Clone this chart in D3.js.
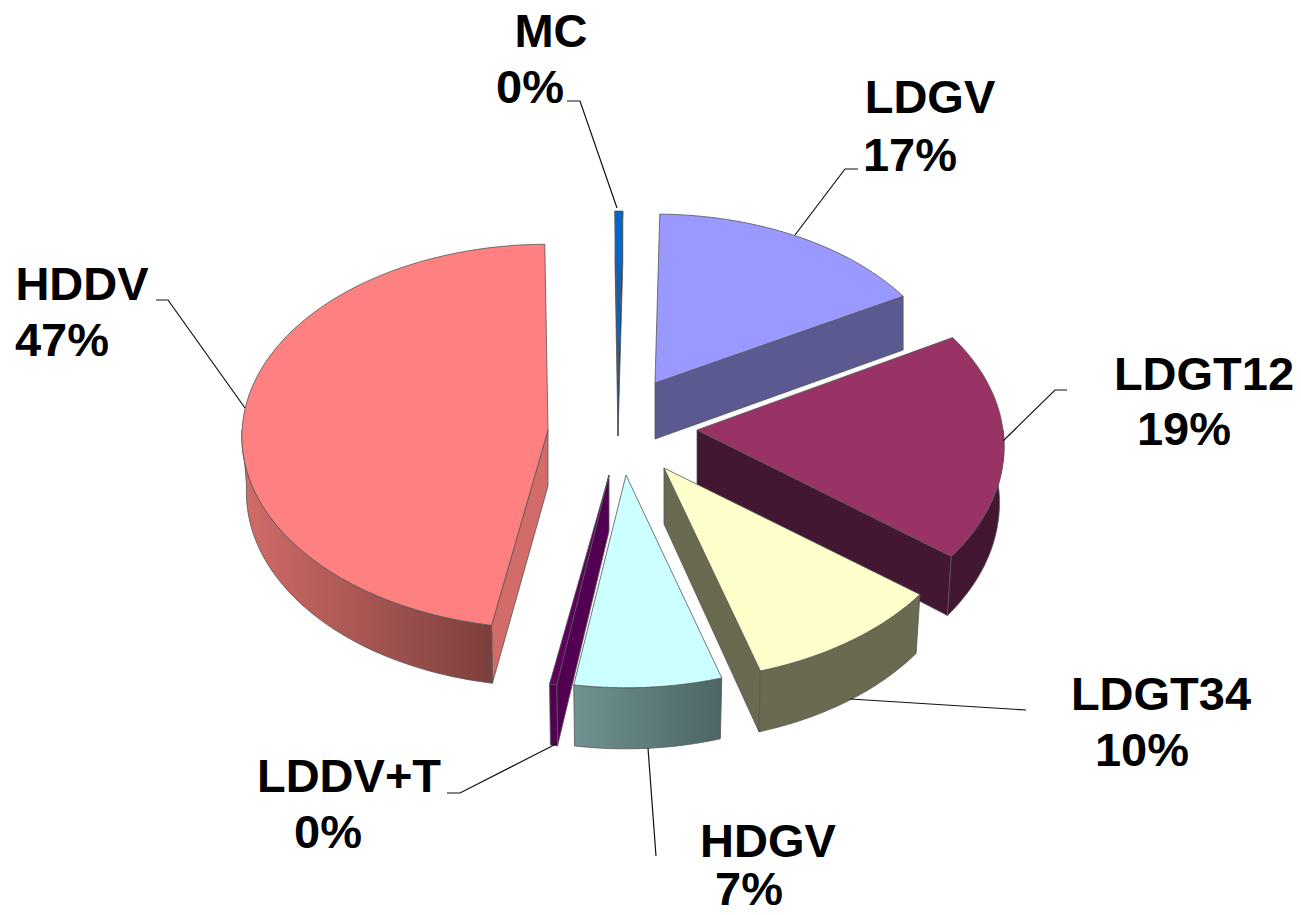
<!DOCTYPE html>
<html><head><meta charset="utf-8"><style>html,body{margin:0;padding:0;background:#fff}svg{display:block}</style>
<script src="https://cdn.jsdelivr.net/npm/d3@7"></script></head><body><div id="c"></div>
<script>
const categories=["LDGV","LDGT12","LDGT34","HDGV","LDDV+T","HDDV","MC"];
const values=[16.5,18.75,9.8,7.15,0.35,46.95,0.45];
const tickLabels=["17%","19%","10%","7%","0%","47%","0%"];
const topColors=["#9999FF","#993366","#FFFFCC","#CCFFFF","#5E005E","#FF8080","#0066CC"];
const sideA=["#5A5A91","#431631","#6A6A50","#6F9391","#520052","#D26C68","#003F80"];
const sideB=["#5A5A91","#431631","#6A6A50","#4C6665","#520052","#7C3F3D","#003F80"];
const apexX=[655,697,664,626,609,548,618];
const apexY=[383,430,468,475,475,430,380];
const radX=[297,306,308,306,306,306,297];
const radY=[183,195,195,195,195,192,183];
const persp=[12,12,12,12,12,30,12];
const bottomScale=[1,0.985,0.985,0.985,0.985,0.985,1];
const labelX=[930,1204,1161,768,349,82,551];
const labelY=[113,390,710,857,792,300,47];
const pctX=[910,1184,1142,749,328,62,530];
const pctY=[171,445,766,905,848,356,103];
const leaders=[[[795,235],[845,169],[858,169]],[[1003,441],[1055,390],[1067,390]],[[850,699],[1026,710]],[[648,748],[656,856]],[[556,744],[460,793],[447,793]],[[245,408],[168,300],[156,300]],[[617,208],[580,101],[567,101]]];
const W=1301,H=915,DEPTH=56,ROT=Math.PI/180;
const pie=d3.pie().sort(null).value(d=>d).startAngle(ROT).endAngle(2*Math.PI+ROT)(values);
const line=d3.line();
const svg=d3.select("#c").append("svg").attr("width",W).attr("height",H);
const defs=svg.append("defs");
function pointer(i){
 const sx=d3.scaleLinear().domain([0,1]).range([apexX[i],apexX[i]+radX[i]]);
 const sy=d3.scaleLinear().domain([0,1]).range([apexY[i],apexY[i]+radY[i]]);
 return (ang,r,dn)=>{
  const X=Math.sin(ang)*r,Z=-Math.cos(ang)*r,s=persp[i]/(persp[i]-Z);
  return [sx(X*s*(dn?bottomScale[i]:1)),sy(Z*s)+(dn?DEPTH*s:0)];
 };
}
const order=d3.range(values.length).sort((a,b)=>apexY[a]-apexY[b]);
order.forEach(i=>{
 const a=pie[i],pt=pointer(i),g=svg.append("g");
 const lg=defs.append("linearGradient").attr("id","g"+i);
 lg.append("stop").attr("offset",0).attr("stop-color",sideA[i]);
 lg.append("stop").attr("offset",1).attr("stop-color",sideB[i]);
 const stroke=p=>p.attr("stroke","#555").attr("stroke-width",0.8).attr("stroke-linejoin","round");
 const arcPts=(a0,a1,dn)=>d3.range(0,61).map(k=>pt(a0+(a1-a0)*k/60,1,dn));
 const wall=ang=>[pt(ang,0,false),pt(ang,1,false),pt(ang,1,true),pt(ang,0,true)];
 const faces=[[a.startAngle,-1],[a.endAngle,1]].filter(([ang,sgn])=>-Math.cos(ang+sgn*Math.PI/2)>0||i===6);
 faces.forEach(([ang])=>stroke(g.append("path").attr("d",line(wall(ang))+"Z").attr("fill",sideA[i])));
 const lo=Math.max(a.startAngle,Math.PI/2),hi=Math.min(a.endAngle,Math.PI*1.5);
 if(hi>lo){
  const t=arcPts(lo,hi,false),b=arcPts(lo,hi,true).reverse();
  stroke(g.append("path").attr("d",line(t.concat(b))+"Z").attr("fill",`url(#g${i})`));
 }
 const top=[pt(a.startAngle,0,false)].concat(arcPts(a.startAngle,a.endAngle,false));
 stroke(g.append("path").attr("d",line(top)+"Z").attr("fill",topColors[i]));
});
leaders.forEach(l=>svg.append("path").attr("d",line(l)).attr("fill","none").attr("stroke","#111").attr("stroke-width",1.2));
const labels=svg.append("g").attr("font-family","'Liberation Sans',Arial,sans-serif").attr("font-weight","700").attr("font-size",47).attr("fill","#000").attr("text-anchor","middle");
categories.forEach((c,i)=>{
 labels.append("text").attr("x",labelX[i]).attr("y",labelY[i]).text(c);
 labels.append("text").attr("x",pctX[i]).attr("y",pctY[i]).text(tickLabels[i]);
});
</script></body></html>
